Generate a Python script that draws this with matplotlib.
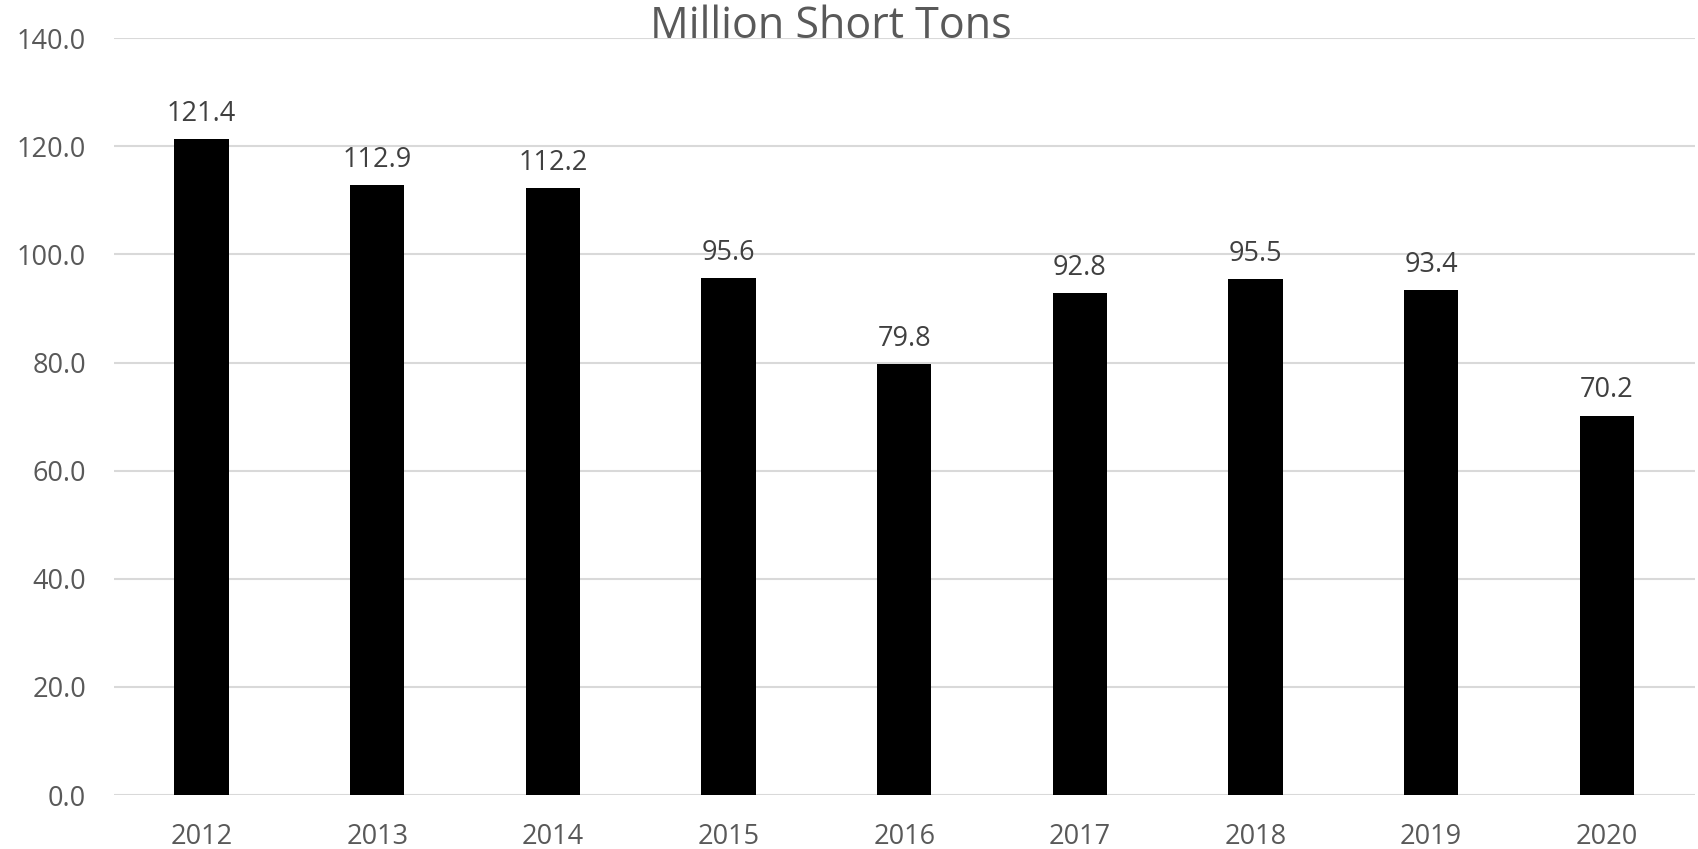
import matplotlib.pyplot as plt

# Datos del gráfico
years = ['2012', '2013', '2014', '2015', '2016', '2017', '2018', '2019', '2020']
tons = [121.4, 112.9, 112.2, 95.6, 79.8, 92.8, 95.5, 93.4, 70.2]
yticks = [0, 20, 40, 60, 80, 100, 120, 140]

plt.rcParams['font.family'] = ['Open Sans', 'DejaVu Sans']

fig = plt.figure(figsize=(16.98, 8.49), dpi=100)
ax = fig.add_axes([0.067, 0.0636, 0.931, 0.8914])

x = range(len(years))
ax.bar(x, tons, width=0.31, color='black', zorder=3)

# Etiquetas de valores sobre las barras
for i, v in zip(x, tons):
    ax.annotate(f'{v:.1f}', (i, v), xytext=(0, 8), textcoords='offset points',
                ha='center', va='bottom', fontsize=19.5, color='#404040')

ax.set_xlim(-0.5, len(years) - 0.5)
ax.set_ylim(0, 140)
ax.set_yticks(yticks)
ax.set_yticklabels([f'{t:.1f}' for t in yticks])
ax.set_xticks(list(x))
ax.set_xticklabels(years)
ax.tick_params(axis='both', length=0, labelsize=19.5, labelcolor='#595959')
ax.tick_params(axis='x', pad=20)
ax.tick_params(axis='y', pad=20)
ax.grid(axis='y', color='#d9d9d9', linewidth=1.5, zorder=0)
for s in ax.spines.values():
    s.set_visible(False)

fig.text(0.489, 0.968, 'Million Short Tons', ha='center', va='center',
         fontsize=31, color='#595959')

fig.savefig('out.png', dpi=100)
